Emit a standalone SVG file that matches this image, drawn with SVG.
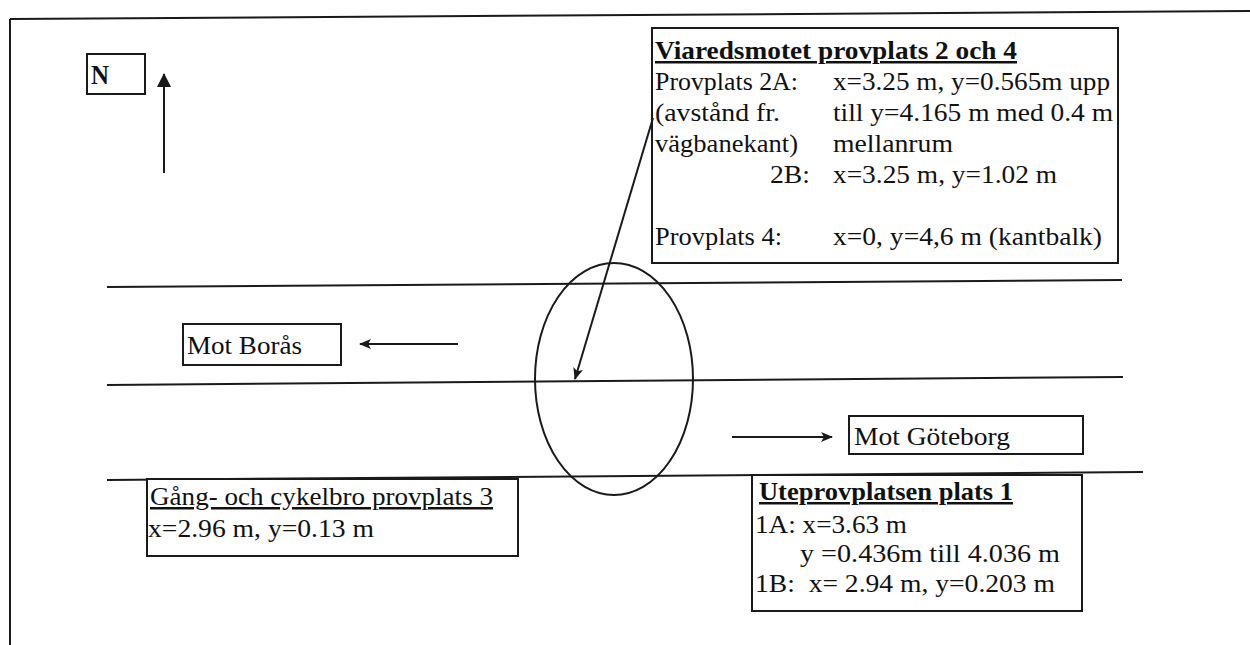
<svg xmlns="http://www.w3.org/2000/svg" width="1250" height="645" viewBox="0 0 1250 645">
<style>
  .t { font-family: "Liberation Serif", "Times New Roman", serif; font-size: 25px; fill: #111; }
  .b { font-weight: bold; }
  .u { text-decoration: underline; }
  .big { font-size: 28px; }
  .box { fill: #fff; stroke: #1a1a1a; stroke-width: 2; }
  .ln { stroke: #1a1a1a; stroke-width: 2; fill: none; }
</style>
<defs>
  <marker id="ah" viewBox="0 0 12 12" refX="11" refY="6" markerWidth="12" markerHeight="12" markerUnits="userSpaceOnUse" orient="auto">
    <path d="M0,1 L12,6 L0,11 L3,6 Z" fill="#1a1a1a"/>
  </marker>
  <marker id="ahN" viewBox="0 0 14 14" refX="13" refY="7" markerWidth="14" markerHeight="14" markerUnits="userSpaceOnUse" orient="auto">
    <path d="M0,0 L14,7 L0,14 Z" fill="#1a1a1a"/>
  </marker>
</defs>
<rect width="1250" height="645" fill="#fff"/>

<g id="frame">
  <line class="ln" x1="10" y1="19" x2="1250" y2="11"/>
  <line class="ln" x1="10" y1="19" x2="10" y2="645"/>
</g>

<g id="road">
  <line class="ln" x1="107" y1="287" x2="1122" y2="280"/>
  <line class="ln" x1="107" y1="385" x2="1123" y2="377"/>
  <line class="ln" x1="107" y1="480" x2="1143" y2="472"/>
  <ellipse class="ln" cx="614" cy="379" rx="79" ry="116"/>
</g>

<g id="north">
  <rect class="box" x="87" y="54" width="58" height="40"/>
  <text class="t b big" x="91" y="84" textLength="18" lengthAdjust="spacingAndGlyphs">N</text>
</g>

<g id="viaredsmotet">
  <rect class="box" x="652" y="28" width="466" height="235"/>
  <text class="t b u" x="655" y="59" textLength="362" lengthAdjust="spacingAndGlyphs">Viaredsmotet provplats 2 och 4</text>
  <text class="t" x="655" y="90" textLength="143" lengthAdjust="spacingAndGlyphs">Provplats 2A:</text>
  <text class="t" x="833" y="90" textLength="277" lengthAdjust="spacingAndGlyphs">x=3.25 m, y=0.565m upp</text>
  <text class="t" x="655" y="121" textLength="125" lengthAdjust="spacingAndGlyphs">(avstånd fr.</text>
  <text class="t" x="833" y="121" textLength="280" lengthAdjust="spacingAndGlyphs">till y=4.165 m med 0.4 m</text>
  <text class="t" x="655" y="152" textLength="143" lengthAdjust="spacingAndGlyphs">vägbanekant)</text>
  <text class="t" x="833" y="152" textLength="120" lengthAdjust="spacingAndGlyphs">mellanrum</text>
  <text class="t" x="770" y="183" textLength="40" lengthAdjust="spacingAndGlyphs">2B:</text>
  <text class="t" x="833" y="183" textLength="224" lengthAdjust="spacingAndGlyphs">x=3.25 m, y=1.02 m</text>
  <text class="t" x="655" y="245" textLength="127" lengthAdjust="spacingAndGlyphs">Provplats 4:</text>
  <text class="t" x="833" y="245" textLength="269" lengthAdjust="spacingAndGlyphs">x=0, y=4,6 m (kantbalk)</text>
</g>

<g id="mot-boras">
  <rect class="box" x="183" y="324" width="158" height="41"/>
  <text class="t" x="187" y="354" textLength="115" lengthAdjust="spacingAndGlyphs">Mot Borås</text>
</g>

<g id="mot-goteborg">
  <rect class="box" x="849" y="416" width="234" height="38"/>
  <text class="t" x="854" y="445" textLength="156" lengthAdjust="spacingAndGlyphs">Mot Göteborg</text>
</g>

<g id="gang-cykelbro">
  <rect class="box" x="147" y="479" width="371" height="77"/>
  <text class="t u" x="150" y="505" textLength="343" lengthAdjust="spacingAndGlyphs">Gång- och cykelbro provplats 3</text>
  <text class="t" x="148" y="537" textLength="226" lengthAdjust="spacingAndGlyphs">x=2.96 m, y=0.13 m</text>
</g>

<g id="uteprovplatsen">
  <rect class="box" x="752" y="475" width="330" height="136"/>
  <text class="t b u" x="759" y="500" textLength="254" lengthAdjust="spacingAndGlyphs">Uteprovplatsen plats 1</text>
  <text class="t" x="755" y="533" textLength="152" lengthAdjust="spacingAndGlyphs">1A: x=3.63 m</text>
  <text class="t" x="800" y="562" textLength="260" lengthAdjust="spacingAndGlyphs">y =0.436m till 4.036 m</text>
  <text class="t" x="755" y="592" textLength="300" lengthAdjust="spacingAndGlyphs" xml:space="preserve">1B:  x= 2.94 m, y=0.203 m</text>
</g>

<g id="connectors">
  <line class="ln" x1="164" y1="173" x2="164" y2="74" marker-end="url(#ahN)"/>
  <line class="ln" x1="458" y1="344" x2="360" y2="344" marker-end="url(#ah)"/>
  <line class="ln" x1="732" y1="437" x2="832" y2="437" marker-end="url(#ah)"/>
  <line class="ln" x1="653" y1="118" x2="575" y2="379" marker-end="url(#ah)"/>
</g>
</svg>
